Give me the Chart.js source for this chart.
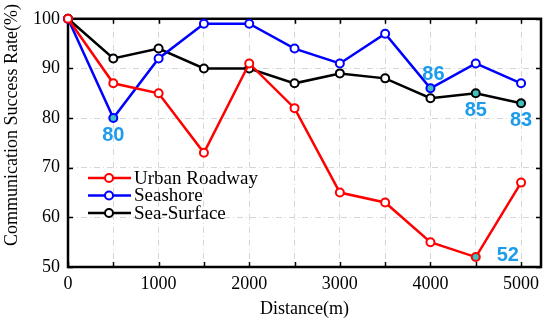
<!DOCTYPE html>
<html>
<head>
<meta charset="utf-8">
<script src="https://cdn.jsdelivr.net/npm/chart.js@4"></script>
<style>
  html, body { margin: 0; padding: 0; background: #fff; }
  #wrap { width: 550px; height: 320px; }
</style>
</head>
<body>
<div id="wrap"><canvas id="myChart" width="550" height="320"></canvas></div>
<script>
// dados
var distances = [0, 500, 1000, 1500, 2000, 2500, 3000, 3500, 4000, 4500, 5000];
var seriesNames = ['Urban Roadway', 'Seashore', 'Sea-Surface'];
var urbanRoadway = [100, 87, 85, 73, 91, 82, 65, 63, 55, 52, 67];
var seashore = [100, 80, 92, 99, 99, 94, 91, 97, 86, 91, 87];
var seaSurface = [100, 92, 94, 90, 90, 87, 89, 88, 84, 85, 83];
var yTicks = [50, 60, 70, 80, 90, 100];
var xTicks = [0, 1000, 2000, 3000, 4000, 5000];
// pontos destacados: [indice, posicao do rotulo]
var urbanMarked = [[9, 'right']];
var seashoreMarked = [[1, 'below'], [8, 'above']];
var seaSurfaceMarked = [[9, 'below'], [10, 'below']];

var serif = "'Liberation Serif', 'Times New Roman', serif";
var markFill = '#3fc1c1';
var labelColor = '#1c9ceb';

function pointFills(values, marked) {
    return values.map(function(v, i) {
        return marked.some(function(m) { return m[0] === i; }) ? markFill : '#ffffff';
    });
}

function makeDataset(name, values, color, marked) {
    return {
        label: name,
        data: values.map(function(v, i) { return { x: distances[i], y: v }; }),
        borderColor: color,
        backgroundColor: color,
        borderWidth: 2.5,
        pointRadius: 4,
        pointBorderWidth: 2,
        pointBorderColor: color,
        pointBackgroundColor: pointFills(values, marked),
        tension: 0,
        clip: false,
        marked: marked
    };
}

var frameAndLabels = {
    id: 'frameAndLabels',
    beforeDatasetsDraw: function(chart) {
        var ctx = chart.ctx, a = chart.chartArea;
        var xs = chart.scales.x, ys = chart.scales.y;
        ctx.save();
        ctx.strokeStyle = '#000';
        ctx.lineWidth = 1.5;
        // marcas internas
        for (var d = 0; d <= 5000; d += 500) {
            var px = Math.round(xs.getPixelForValue(d)) + 0.5;
            ctx.beginPath();
            ctx.moveTo(px, a.bottom); ctx.lineTo(px, a.bottom - 5);
            ctx.moveTo(px, a.top); ctx.lineTo(px, a.top + 5);
            ctx.stroke();
        }
        yTicks.forEach(function(v) {
            var py = Math.round(ys.getPixelForValue(v)) + 0.5;
            ctx.beginPath();
            ctx.moveTo(a.left, py); ctx.lineTo(a.left + 5, py);
            ctx.moveTo(a.right, py); ctx.lineTo(a.right - 5, py);
            ctx.stroke();
        });
        ctx.lineWidth = 2.5;
        ctx.strokeRect(a.left, a.top, a.right - a.left, a.bottom - a.top);
        ctx.restore();
    },
    afterDatasetsDraw: function(chart) {
        var ctx = chart.ctx;
        ctx.save();
        ctx.font = "bold 20px 'Liberation Sans', Arial, sans-serif";
        ctx.fillStyle = labelColor;
        ctx.textAlign = 'center';
        ctx.textBaseline = 'middle';
        chart.data.datasets.forEach(function(ds, di) {
            var meta = chart.getDatasetMeta(di);
            ds.marked.forEach(function(m) {
                var el = meta.data[m[0]];
                var txt = String(ds.data[m[0]].y);
                var x = el.x, y = el.y;
                if (m[1] === 'below') y += 17;
                else if (m[1] === 'above') { y -= 14; x += 3; }
                else { x += 32; y -= 2; }
                ctx.fillText(txt, x, y);
            });
        });
        ctx.restore();
    },
    afterDraw: function(chart) {
        var ctx = chart.ctx, a = chart.chartArea;
        ctx.save();
        // titulo do eixo y
        ctx.font = '18px ' + serif;
        ctx.fillStyle = '#000';
        ctx.textAlign = 'center';
        ctx.textBaseline = 'middle';
        ctx.translate(12, 125);
        ctx.rotate(-Math.PI / 2);
        ctx.fillText('Communication Success Rate(%)', 0, 0);
        ctx.restore();

        // legenda
        ctx.save();
        ctx.font = '19px ' + serif;
        ctx.textBaseline = 'middle';
        chart.data.datasets.forEach(function(ds, i) {
            var y = 178 + i * 17.5;
            ctx.strokeStyle = ds.borderColor;
            ctx.lineWidth = 2.5;
            ctx.beginPath();
            ctx.moveTo(88, y); ctx.lineTo(131, y);
            ctx.stroke();
            ctx.lineWidth = 2;
            ctx.fillStyle = '#fff';
            ctx.beginPath();
            ctx.arc(109, y, 4, 0, Math.PI * 2);
            ctx.fill(); ctx.stroke();
            ctx.fillStyle = '#000';
            ctx.fillText(ds.label, 134, y + 1);
        });
        ctx.restore();
    }
};

var ctx = document.getElementById('myChart');
var myChart = new Chart(ctx, {
    type: 'line',
    data: {
        datasets: [
            makeDataset(seriesNames[0], urbanRoadway, '#ff0000', urbanMarked),
            makeDataset(seriesNames[1], seashore, '#0000ff', seashoreMarked),
            makeDataset(seriesNames[2], seaSurface, '#000000', seaSurfaceMarked)
        ]
    },
    options: {
        responsive: false,
        animation: false,
        layout: { padding: { top: 13, right: 9, left: 0, bottom: 0 } },
        plugins: {
            legend: { display: false },
            tooltip: { enabled: false }
        },
        scales: {
            x: {
                type: 'linear',
                min: 0,
                max: 5220,
                afterFit: function(scale) { scale.height = 53; },
                afterBuildTicks: function(scale) {
                    var t = [];
                    for (var d = 0; d <= 5000; d += 500) t.push({ value: d });
                    scale.ticks = t;
                },
                ticks: {
                    color: '#000',
                    font: { family: serif, size: 18 },
                    padding: 6,
                    maxRotation: 0,
                    autoSkip: false,
                    callback: function(v) { return xTicks.indexOf(v) >= 0 ? String(v) : ''; }
                },
                grid: { color: '#d6d6d6', lineWidth: 1, drawTicks: false },
                border: { display: false, dash: [6, 3, 1, 3] },
                title: {
                    display: true,
                    text: 'Distance(m)',
                    color: '#000',
                    font: { family: serif, size: 18 },
                    padding: { top: 3, bottom: 0 }
                }
            },
            y: {
                min: 50,
                max: 100,
                afterFit: function(scale) { scale.width = 68; },
                afterBuildTicks: function(scale) {
                    scale.ticks = yTicks.map(function(v) { return { value: v }; });
                },
                ticks: {
                    color: '#000',
                    font: { family: serif, size: 18 },
                    padding: 8
                },
                grid: { color: '#d6d6d6', lineWidth: 1, drawTicks: false },
                border: { display: false, dash: [6, 3, 1, 3] }
            }
        }
    },
    plugins: [frameAndLabels]
});
</script>
</body>
</html>
